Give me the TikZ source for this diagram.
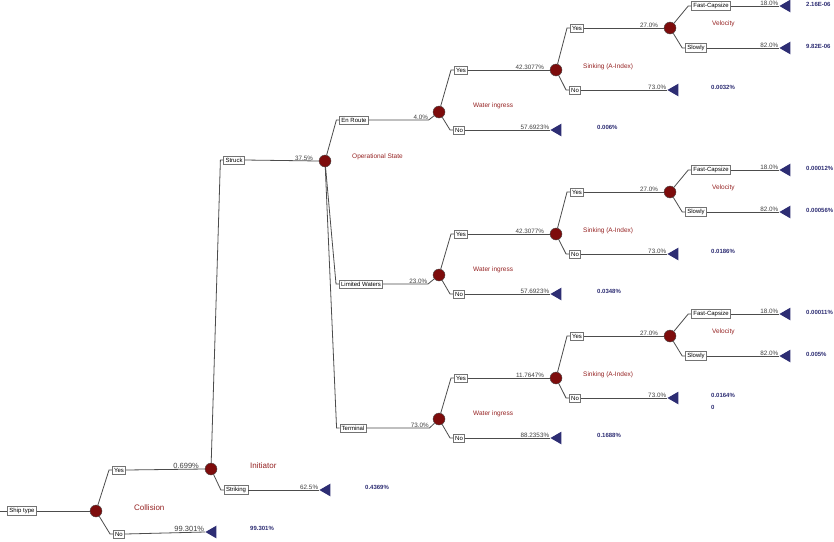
\documentclass[tikz,border=0pt]{standalone}
\usepackage{fontspec}
\setmainfont{Liberation Sans}
\usetikzlibrary{shapes.geometric,calc}
\definecolor{dred}{RGB}{150,35,35}
\definecolor{cfill}{RGB}{125,12,12}
\definecolor{navy}{RGB}{45,45,115}
\tikzset{
 bx/.style={draw=black!55,fill=white,font=\fontsize{6}{6.5}\selectfont,inner sep=1.8pt,line width=0.6pt},
 circ/.style={circle,draw=black!70,fill=cfill,minimum size=12pt,inner sep=0pt},
 tri/.style={isosceles triangle,shape border rotate=180,fill=navy,minimum height=11pt,minimum width=12pt,isosceles triangle apex angle=60,inner sep=0pt,anchor=apex},
 ln/.style={draw=black!70,line width=0.8pt},
 pct/.style={font=\fontsize{6.3}{6.5}\selectfont,text=black!75,inner sep=0.5pt,anchor=south east},
 val/.style={font=\bfseries\fontsize{6}{6.5}\selectfont,text=navy,anchor=west,inner sep=0pt},
 lab/.style={font=\fontsize{6.5}{7}\selectfont,text=dred,anchor=west,inner sep=0pt},
}
\newcommand\blk[9]{%
 \node[bx] (#1wy) at (461,{70+#2}) {Yes};
 \node[bx] (#1wn) at (459,{130+#2}) {No};
 \node[circ] (#1s) at (556,{70+#2}) {};
 \node[tri] (#1tn) at (550,{130+#2}) {};
 \draw[ln] (#3) -- ([xshift=-3pt]#1wy.west) -- (#1wy.west);
 \draw[ln] (#3) -- ([xshift=-3pt]#1wn.west) -- (#1wn.west);
 \draw[ln] (#1wy.east) -- node[pct,pos=1,xshift=-5pt]{#4} (#1s.west);
 \draw[ln] (#1wn.east) -- node[pct,pos=1]{#5} (#1tn.apex);
 \node[val] at (597,{127+#2}) {#6};
 \node[lab] at (473,{106+#2}) {Water ingress};
 \node[lab] at (583,{67+#2}) {Sinking (A-Index)};
 \node[bx] (#1sy) at (577,{28+#2}) {Yes};
 \node[bx] (#1sn) at (575,{90+#2}) {No};
 \node[circ] (#1v) at (670,{28+#2}) {};
 \node[tri] (#1tsn) at (667,{90+#2}) {};
 \draw[ln] (#1s) -- ([xshift=-3pt]#1sy.west) -- (#1sy.west);
 \draw[ln] (#1s) -- ([xshift=-3pt]#1sn.west) -- (#1sn.west);
 \draw[ln] (#1sy.east) -- node[pct,pos=1,xshift=-5pt]{27.0\%} (#1v.west);
 \draw[ln] (#1sn.east) -- node[pct,pos=1]{73.0\%} (#1tsn.apex);
 \node[val] at (711,{87+#2}) {#7};
 \node[lab] at (712,{24+#2}) {Velocity};
 \node[bx] (#1fc) at (711,{6+#2}) {Fast-Capsize};
 \node[bx] (#1sl) at (696,{48+#2}) {Slowly};
 \node[tri] (#1tfc) at (779,{6+#2}) {};
 \node[tri] (#1tsl) at (779,{48+#2}) {};
 \draw[ln] (#1v) -- ([xshift=-3pt]#1fc.west) -- (#1fc.west);
 \draw[ln] (#1v) -- ([xshift=-3pt]#1sl.west) -- (#1sl.west);
 \draw[ln] (#1fc.east) -- node[pct,pos=1]{18.0\%} (#1tfc.apex);
 \draw[ln] (#1sl.east) -- node[pct,pos=1]{82.0\%} (#1tsl.apex);
 \node[val] at (806,{4+#2}) {#8};
 \node[val] at (806,{46+#2}) {#9};
}
\begin{document}
\begin{tikzpicture}[x=1pt,y=-1pt]
\useasboundingbox[fill=white] (0,0) rectangle (834,541);
\node[bx] (ship) at (22,511) {Ship type};
\draw[ln] (0,511) -- (ship.west);
\node[circ] (c0) at (96,511) {};
\draw[ln] (ship.east) -- (c0);
\node[bx] (yes) at (119,470) {Yes};
\node[bx] (no) at (119,534) {No};
\draw[ln] (c0) -- ([xshift=-3pt]yes.west) -- (yes.west);
\draw[ln] (c0) -- ([xshift=-3pt]no.west) -- (no.west);
\node[circ] (c1) at (211,469) {};
\node[tri] (tno) at (205,532) {};
\draw[ln] (yes.east) -- node[pct,pos=1,xshift=-5pt,font=\fontsize{7.5}{8}\selectfont]{0.699\%} (c1.west);
\draw[ln] (no.east) -- node[pct,pos=1,font=\fontsize{7.5}{8}\selectfont]{99.301\%} (tno.apex);
\node[val] at (250,528) {99.301\%};
\node[lab,font=\fontsize{8}{8}\selectfont] at (134,508) {Collision};
\node[lab,font=\fontsize{8}{8}\selectfont] at (250,466) {Initiator};
\node[bx] (struck) at (234,160) {Struck};
\node[bx] (strk) at (236,490) {Striking};
\draw[ln] (c1) -- ([xshift=-3pt]struck.west) -- (struck.west);
\draw[ln] (c1) -- ([xshift=-3pt]strk.west) -- (strk.west);
\node[tri] (tstrk) at (319,490) {};
\draw[ln] (strk.east) -- node[pct,pos=1]{62.5\%} (tstrk.apex);
\node[val] at (365,487) {0.4369\%};
\node[circ] (c2) at (325,161) {};
\draw[ln] (struck.east) -- node[pct,pos=1,xshift=-5pt]{37.5\%} (c2.west);
\node[lab] at (352,157) {Operational State};
\node[bx] (er) at (354,120) {En Route};
\node[bx] (lw) at (361,284) {Limited Waters};
\node[bx] (te) at (353,428) {Terminal};
\foreach \b in {er,lw,te}{\draw[ln] (c2) -- ([xshift=-3pt]\b.west) -- (\b.west);}
\node[circ] (w1) at (439,112) {};
\node[circ] (w2) at (439,275) {};
\node[circ] (w3) at (439,419) {};
\draw[ln] (er.east) -- ++(60,0) coordinate(e1) -- (w1);
\draw[ln] (lw.east) -- ++(45,0) coordinate(e2) -- (w2);
\draw[ln] (te.east) -- ++(63,0) coordinate(e3) -- (w3);
\node[pct] at (e1) {4.0\%};
\node[pct] at (e2) {23.0\%};
\node[pct] at (e3) {73.0\%};
\blk{a}{0}{w1}{42.3077\%}{57.6923\%}{0.006\%}{0.0032\%}{2.16E-06}{9.82E-06}
\blk{b}{164}{w2}{42.3077\%}{57.6923\%}{0.0348\%}{0.0186\%}{0.00012\%}{0.00056\%}
\blk{c}{308}{w3}{11.7647\%}{88.2353\%}{0.1688\%}{0.0164\%}{0.00011\%}{0.005\%}
\node[val] at (711,407) {0};
\end{tikzpicture}
\end{document}
